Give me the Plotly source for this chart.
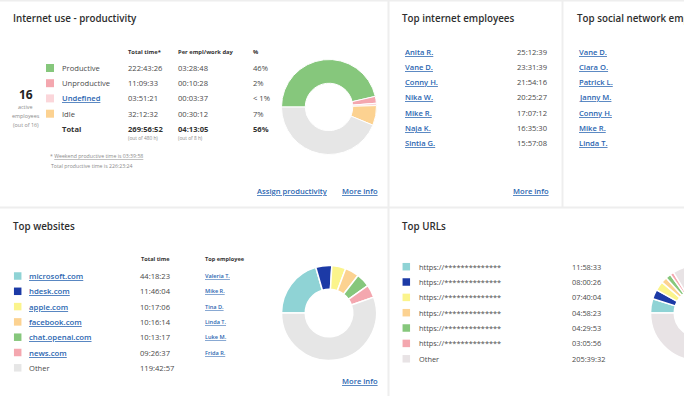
import plotly.graph_objects as go

# ---------------- data ----------------
prod_labels = ["Productive", "Unproductive", "Undefined", "Idle"]
prod_total = ["222:43:26", "11:09:33", "03:51:21", "32:12:32"]
prod_per_day = ["03:28:48", "00:10:28", "00:03:37", "00:30:12"]
prod_pct = ["46%", "2%", "< 1%", "7%"]
prod_unused = "210:03:08"          # remainder of the 480 h
prod_sum = ["269:56:52", "04:13:05", "56%"]

emp_names = ["Anita R.", "Vane D.", "Conny H.", "Nika W.", "Mike R.", "Naja K.", "Sintia G."]
emp_times = ["25:12:39", "23:31:39", "21:54:16", "20:25:27", "17:07:12", "16:35:30", "15:57:08"]
social_names = ["Vane D.", "Clara O.", "Patrick L.", "Janny M.", "Conny H.", "Mike R.", "Linda T."]

site_names = ["microsoft.com", "hdesk.com", "apple.com", "facebook.com", "chat.openai.com", "news.com", "Other"]
site_times = ["44:18:23", "11:46:04", "10:17:06", "10:16:14", "10:13:17", "09:26:37", "119:42:57"]
site_emps = ["Valeria T.", "Mike R.", "Tina D.", "Linda T.", "Luke M.", "Frida R.", ""]

url_names = ["https://**************"] * 6 + ["Other"]
url_times = ["11:58:33", "08:00:26", "07:40:04", "04:58:23", "04:29:53", "03:05:56", "205:39:32"]

# ---------------- styles ----------------
prod_colors = ["#86c77c", "#f4a7af", "#fbd6da", "#fcd291"]
unused_color = "#e6e6e6"
site_colors = ["#8fd3d5", "#1c3aa6", "#fbf48c", "#fcd291", "#86c77c", "#f4a7af", "#e6e6e6"]
url_colors = ["#8fd3d5", "#1c3aa6", "#fbf48c", "#fcd291", "#86c77c", "#f4a7af", "#e8e3e5"]
LINK = "#2b66b1"
TXT = "#4a4a4a"
TITLE = "#2e2e2e"
GRAY = "#8a8a8a"
FONT = "Open Sans"

W, H = 760, 396


def hours(s):
    h, m, sec = s.split(":")
    return int(h) + int(m) / 60 + int(sec) / 3600


def px(x):
    return x / W


def py(y):
    return 1 - y / H


def dom(cx, cy, r):
    return dict(x=[px(cx - r), px(cx + r)], y=[py(cy + r), py(cy - r)])


annotations = []
shapes = []


def ann(x, y, text, size=7.6, color=TXT, weight=400, anchor="left"):
    annotations.append(dict(x=px(x), y=py(y), xref="paper", yref="paper", text=text,
                            showarrow=False, xanchor=anchor, yanchor="middle",
                            font=dict(family=FONT, size=size, color=color, weight=weight)))


def link(x, y, text, size=7.6, anchor="left", weight=600):
    ann(x, y, "<u>" + text + "</u>", size=size, color=LINK, weight=weight, anchor=anchor)


def square(cx, cy, s, color):
    shapes.append(dict(type="rect", xref="paper", yref="paper",
                       x0=px(cx - s / 2), x1=px(cx + s / 2), y0=py(cy + s / 2), y1=py(cy - s / 2),
                       fillcolor=color, line=dict(width=0), layer="above"))


fig = go.Figure()

# ---------------- donuts ----------------
fig.add_trace(go.Pie(values=[hours(t) for t in prod_total] + [hours(prod_unused)],
                     labels=prod_labels + ["Not used"], sort=False, direction="clockwise",
                     rotation=270, hole=0.5, textinfo="none", hoverinfo="label+value",
                     marker=dict(colors=prod_colors + [unused_color], line=dict(color="white", width=1)),
                     domain=dom(329, 107, 47.5), showlegend=False))
fig.add_trace(go.Pie(values=[hours(t) for t in site_times], labels=site_names, sort=False,
                     direction="clockwise", rotation=270, hole=0.5, textinfo="none",
                     marker=dict(colors=site_colors, line=dict(color="white", width=1.5)),
                     domain=dom(329, 313, 47.5), showlegend=False))
fig.add_trace(go.Pie(values=[hours(t) for t in url_times], labels=[f"URL {i+1}" for i in range(6)] + ["Other"],
                     sort=False, direction="clockwise", rotation=270, hole=0.5, textinfo="none",
                     marker=dict(colors=url_colors, line=dict(color="white", width=1.5)),
                     domain=dom(698, 313, 47.5), showlegend=False))

# ---------------- panel dividers ----------------
for (x0, y0, x1, y1) in [(0, 0.5, W, 0.5), (0, 207.5, W, 207.5), (388.5, 0, 388.5, H), (562.5, 0, 562.5, 207)]:
    shapes.append(dict(type="line", xref="paper", yref="paper", x0=px(x0), x1=px(x1), y0=py(y0), y1=py(y1),
                       line=dict(color="#eeeeee", width=2), layer="below"))

# ---------------- Internet use - productivity ----------------
ann(11, 18.5, "Internet use - productivity", size=9.8, color=TITLE, weight=600)
ann(25.7, 94.5, "16", size=12, color="#222", weight=700, anchor="center")
for yy, t in zip([107, 116, 125], ["active", "employees", "(out of 16)"]):
    ann(25.7, yy, t, size=5.4, color=GRAY, anchor="center")
ann(126, 51.7, "Total time*", size=5.8, color="#333", weight=700)
ann(176, 51.7, "Per empl/work day", size=5.8, color="#333", weight=700)
ann(250.7, 51.7, "%", size=5.8, color="#333", weight=700)
row_y = [68, 83.2, 98.4, 113.7]
for i, yy in enumerate(row_y):
    square(50, yy, 8, prod_colors[i])
    if prod_labels[i] == "Undefined":
        link(60, yy, prod_labels[i], size=7.6)
    else:
        ann(60, yy, prod_labels[i])
    ann(125.7, yy, prod_total[i])
    ann(175.7, yy, prod_per_day[i])
    ann(250.7, yy, prod_pct[i])
ann(60, 129, "Total", weight=700, color="#333")
ann(125.7, 129, prod_sum[0], weight=700, color="#333")
ann(175.7, 129, prod_sum[1], weight=700, color="#333")
ann(250.7, 129, prod_sum[2], weight=700, color="#333")
ann(126, 137.5, "(out of 480 h)", size=4.8, color=GRAY)
ann(176, 137.5, "(out of 8 h)", size=4.8, color=GRAY)
ann(47.7, 155.7, "* <u>Weekend productive time is 03:39:58</u>", size=5.2, color=GRAY)
ann(48.7, 166, "Total productive time is 226:23:24", size=5.2, color=GRAY)
link(255, 190.7, "Assign productivity")
link(340, 190.7, "More info")

# ---------------- Top internet employees ----------------
emp_y = [51.7, 66.9, 82.1, 97.4, 112.7, 127.9, 143.2]
ann(400, 18.5, "Top internet employees", size=9.8, color=TITLE, weight=600)
for yy, n, t in zip(emp_y, emp_names, emp_times):
    link(402.7, yy, n)
    ann(548.5, yy, t, anchor="right")
link(550.7, 190.7, "More info", anchor="right")

# ---------------- Top social network employees ----------------
ann(575, 18.5, "Top social network employees", size=9.8, color=TITLE, weight=600)
for yy, n in zip(emp_y, social_names):
    link(577.3, yy, n)

# ---------------- Top websites ----------------
site_y = [276, 291.3, 306.6, 321.9, 337.2, 352.5, 367.8]
ann(11, 226.7, "Top websites", size=9.8, color=TITLE, weight=600)
ann(139, 259.3, "Total time", size=5.6, color="#333", weight=700)
ann(203.3, 259.3, "Top employee", size=5.6, color="#333", weight=700)
for i, yy in enumerate(site_y):
    square(17.7, yy, 7.5, site_colors[i])
    if site_names[i] == "Other":
        ann(27.3, yy, site_names[i])
    else:
        link(27.3, yy, site_names[i], size=7.8)
    ann(138.3, yy, site_times[i])
    if site_emps[i]:
        link(202.7, yy, site_emps[i], size=5.6)
link(340, 380.7, "More info")

# ---------------- Top URLs ----------------
url_y = [266.7, 282, 297.4, 312.7, 328, 343.4, 358.8]
ann(400, 226.7, "Top URLs", size=9.8, color=TITLE, weight=600)
for i, yy in enumerate(url_y):
    square(406.3, yy, 7.5, url_colors[i])
    ann(416.7, yy, url_names[i], size=7.4)
    ann(570, yy, url_times[i], size=7.4)

fig.update_layout(width=W, height=H, margin=dict(l=0, r=0, t=0, b=0),
                  paper_bgcolor="white", plot_bgcolor="white",
                  annotations=annotations, shapes=shapes, showlegend=False)

fig.write_html("out.html",
               post_script="document.body.style.margin='0';document.body.style.overflow='hidden';"
                           "document.documentElement.style.overflow='hidden';")
